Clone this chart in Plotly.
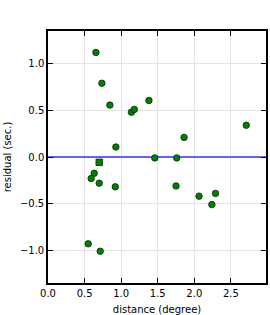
import plotly.graph_objects as go

dist = [0.655, 0.737, 0.846, 0.928, 1.14, 1.18, 1.38, 1.46, 1.76, 1.86, 2.71,
        0.632, 0.59, 0.70, 0.92, 0.55, 0.714, 1.75, 2.065, 2.29, 2.24]
resid = [1.12, 0.79, 0.556, 0.107, 0.48, 0.51, 0.606, -0.01, -0.01, 0.21, 0.34,
         -0.175, -0.23, -0.28, -0.32, -0.93, -1.01, -0.31, -0.42, -0.39, -0.51]
sq_dist = [0.70]
sq_resid = [-0.057]

fig = go.Figure()
fig.add_trace(go.Scatter(x=[0, 3.0], y=[0, 0], mode="lines",
                         line=dict(color="#3333ff", width=1.5), showlegend=False))
fig.add_trace(go.Scatter(x=dist, y=resid, mode="markers",
                         marker=dict(symbol="circle", size=6.5, color="#007f00",
                                     line=dict(color="#0a2a0a", width=0.8)),
                         showlegend=False))
fig.add_trace(go.Scatter(x=sq_dist, y=sq_resid, mode="markers",
                         marker=dict(symbol="square", size=6.5, color="#007f00",
                                     line=dict(color="#0a2a0a", width=0.8)),
                         showlegend=False))

axis_common = dict(showline=True, linecolor="black", linewidth=1.5, mirror="ticks",
                   ticks="inside", ticklen=5, tickcolor="black", tickwidth=1,
                   showgrid=True, gridcolor="#e3e3e3", gridwidth=1, zeroline=False,
                   automargin=False,
                   tickfont=dict(family="DejaVu Sans", size=10, color="black"))
fig.update_xaxes(range=[0, 2.98], tickvals=[0, 0.5, 1, 1.5, 2, 2.5],
                 ticktext=["0.0", "0.5", "1.0", "1.5", "2.0", "2.5"],
                 title=dict(text="distance (degree)", standoff=9,
                            font=dict(family="DejaVu Sans", size=10, color="black")),
                 **axis_common)
fig.update_yaxes(range=[-1.35, 1.35], tickvals=[-1, -0.5, 0, 0.5, 1],
                 ticktext=["\u22121.0", "\u22120.5", "0.0", "0.5", "1.0"],
                 title=dict(text="residual (sec.)", standoff=6,
                            font=dict(family="DejaVu Sans", size=10, color="black")),
                 **axis_common)
fig.update_layout(width=270, height=315, margin=dict(l=48, r=4, t=31, b=32),
                  plot_bgcolor="white", paper_bgcolor="white")
fig.write_html("out.html")
